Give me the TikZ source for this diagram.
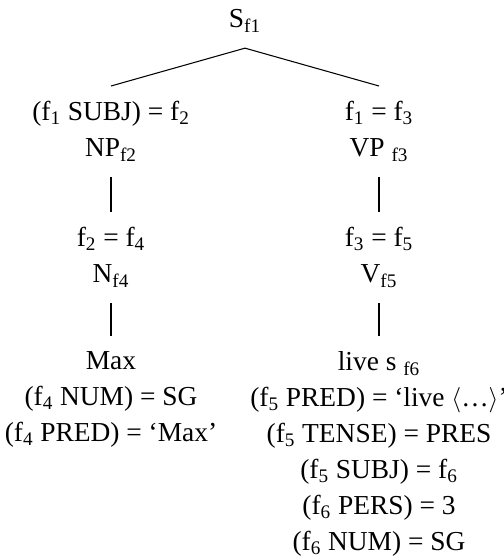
\documentclass[tikz,border=0pt]{standalone}
\usepackage{fontspec}
\setmainfont{Liberation Serif}
\newcommand{\fv}[1]{f\textsubscript{#1}}

\begin{document}
\begin{tikzpicture}[
        every node/.style={font=\fontsize{15.6}{20.5}\selectfont, align=center, inner xsep=0pt, inner ysep=0.3cm},
        branch/.style={line width=0.6pt}
    ]
        \useasboundingbox (0,0) rectangle (10.08,-11.2);

        % Root
        \node[anchor=base] (s) at (4.90,-0.56) {S\textsubscript{f1}};

        % Left branch: subject NP
        \node[anchor=north] (np) at (2.22,-1.72) {(\fv1 SUBJ) = \fv2\\NP\textsubscript{f2}};
        \node[anchor=north] (n) at (2.22,-4.24) {\fv2 = \fv4\\N\textsubscript{f4}};
        \node[anchor=north] (max) at (2.22,-6.72) {Max\\(\fv4 NUM) = SG\\(\fv4 PRED) = `Max'};

        % Right branch: VP
        \node[anchor=north] (vp) at (7.58,-1.72) {\fv1 = \fv3\\VP \textsubscript{f3}};
        \node[anchor=north] (v) at (7.58,-4.24) {\fv3 = \fv5\\V\textsubscript{f5}};
        \node[anchor=north] (lives) at (7.58,-6.72) {live s \textsubscript{f6}\\(\fv5 PRED) = `live $\langle$\ldots$\rangle$'\\(\fv5 TENSE) = PRES\\(\fv5 SUBJ) = \fv6\\(\fv6 PERS) = 3\\(\fv6 NUM) = SG};

        % Branches
        \draw[branch] (s.south) -- (np.north);
        \draw[branch] (s.south) -- (vp.north);
        \draw[branch] (np.south) -- (n.north);
        \draw[branch] (n.south) -- (max.north);
        \draw[branch] (vp.south) -- (v.north);
        \draw[branch] (v.south) -- (lives.north);
    \end{tikzpicture}
\end{document}
